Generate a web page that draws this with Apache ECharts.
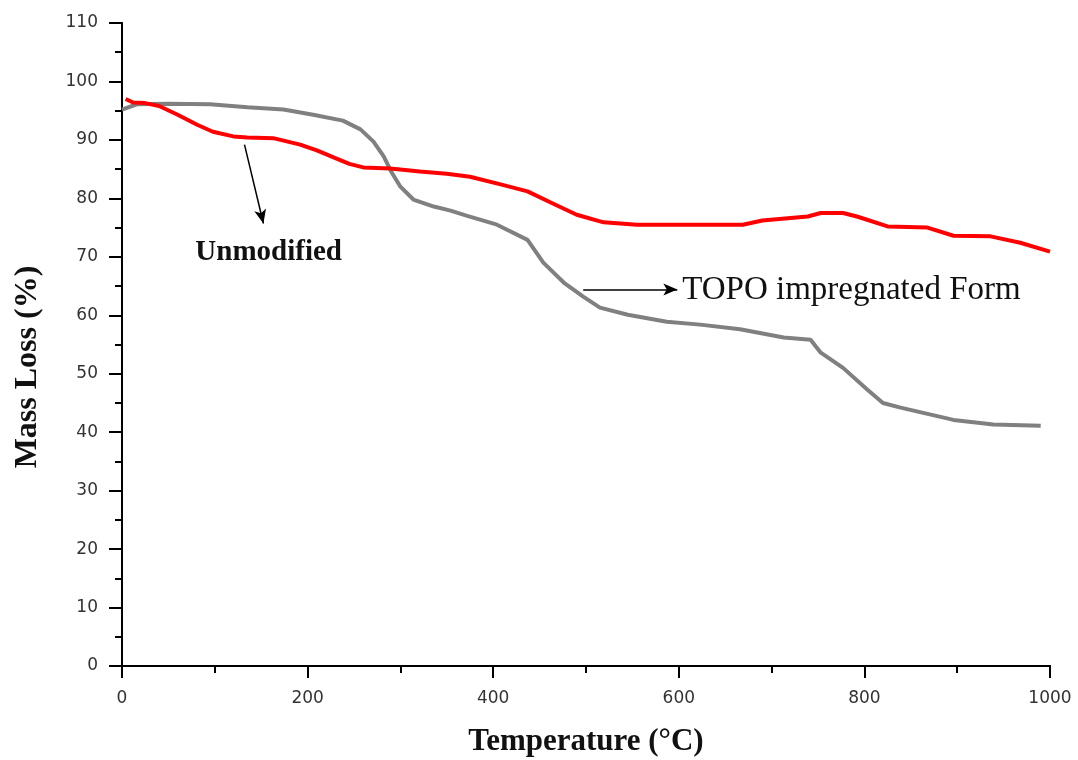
<!DOCTYPE html>
<html>
<head>
<meta charset="utf-8">
<title>Mass Loss vs Temperature</title>
<script src="https://cdn.jsdelivr.net/npm/echarts@6/dist/echarts.min.js"></script>
<style>
  html, body { margin: 0; padding: 0; background: #fff; }
  #chart { width: 1078px; height: 760px; }
</style>
</head>
<body>
<div id="chart"></div>
<script>
// Thermogravimetric curves: temperature (°C) vs mass loss (%)
const redCurve = [
  [4, 97.0], [12, 96.4], [25, 96.3], [40, 95.8], [60, 94.3], [81, 92.6],
  [98, 91.4], [120, 90.6], [135, 90.4], [163, 90.3], [192, 89.2], [210, 88.2],
  [228, 87.0], [245, 85.9], [260, 85.3], [289, 85.1], [321, 84.6], [350, 84.2],
  [375, 83.7], [408, 82.4], [437, 81.2], [462, 79.3], [490, 77.2], [519, 75.9],
  [555, 75.5], [600, 75.5], [669, 75.5], [690, 76.2], [739, 76.9], [753, 77.5],
  [777, 77.5], [792, 76.9], [825, 75.2], [868, 75.0], [896, 73.6], [936, 73.5],
  [968, 72.4], [1000, 70.9]
];
const grayCurve = [
  [0, 95.2], [16, 96.1], [50, 96.2], [95, 96.1], [135, 95.6], [174, 95.2],
  [206, 94.3], [238, 93.3], [257, 91.8], [271, 89.7], [282, 87.2], [290, 84.6],
  [300, 82.0], [314, 79.8], [336, 78.6], [354, 77.9], [372, 77.0], [404, 75.5],
  [437, 72.9], [454, 69.0], [476, 65.6], [497, 63.2], [515, 61.3], [545, 60.1],
  [587, 58.9], [623, 58.4], [666, 57.6], [713, 56.2], [742, 55.8], [753, 53.6],
  [777, 51.0], [803, 47.3], [820, 45.0], [839, 44.2], [896, 42.1], [939, 41.3],
  [990, 41.1]
];

// Axis ranges
const xRange = { min: 0, max: 1000, interval: 200 };
const yRange = { min: 0, max: 110, interval: 10 };

// Annotation texts and arrows (data coordinates)
const unmodifiedLabel = { text: 'Unmodified', at: [79, 70.7] };
const unmodifiedArrow = [[132, 89.2], [152.4, 75.7]];
const topoLabel = { text: 'TOPO impregnated Form', at: [603.6, 64.3] };
const topoArrow = [[497, 64.4], [598.4, 64.4]];

const xTitle = 'Temperature (°C)';
const yTitle = 'Mass Loss (%)';

const chart = echarts.init(document.getElementById('chart'));

const tickLabel = {
  color: '#333', fontFamily: 'DejaVu Sans', fontSize: 17, margin: 24,
  formatter: (v) => String(v)
};
const lineStyleAxis = { color: '#000', width: 2 };

const option = {
  backgroundColor: '#fff',
  animation: false,
  grid: { left: 122, right: 28, top: 23, bottom: 94, containLabel: false, outerBoundsMode: 'none' },
  xAxis: [
    {
      type: 'value', min: xRange.min, max: xRange.max, interval: xRange.interval,
      name: xTitle, nameLocation: 'middle', nameGap: 60,
      nameTextStyle: { fontFamily: 'Liberation Serif', fontWeight: 'bold', fontSize: 31, color: '#111' },
      axisLine: { show: true, lineStyle: lineStyleAxis },
      axisTick: { show: true, inside: false, length: 12, lineStyle: { color: '#000', width: 2 } },
      minorTick: { show: true, splitNumber: 2, length: 7, lineStyle: { color: '#000', width: 2 } },
      splitLine: { show: false },
      axisLabel: tickLabel
    },
    {
      type: 'value', position: 'top', min: xRange.min, max: xRange.max,
      axisLine: { show: true, lineStyle: lineStyleAxis },
      axisTick: { show: false }, axisLabel: { show: false }, splitLine: { show: false }
    }
  ],
  yAxis: [
    {
      type: 'value', min: yRange.min, max: yRange.max, interval: yRange.interval,
      axisLine: { show: true, lineStyle: lineStyleAxis },
      axisTick: { show: true, inside: false, length: 13, lineStyle: { color: '#000', width: 2 } },
      minorTick: { show: true, splitNumber: 2, length: 7, lineStyle: { color: '#000', width: 2 } },
      splitLine: { show: false },
      axisLabel: tickLabel
    },
    {
      type: 'value', position: 'right', min: yRange.min, max: yRange.max,
      axisLine: { show: true, lineStyle: lineStyleAxis },
      axisTick: { show: false }, axisLabel: { show: false }, splitLine: { show: false }
    }
  ],
  series: [
    {
      name: 'Unmodified', type: 'line', data: redCurve, showSymbol: false,
      lineStyle: { color: '#ff0000', width: 4 }, z: 3,
      markLine: {
        silent: true, symbol: ['none', 'arrow'], symbolSize: [9, 14],
        lineStyle: { color: '#000', width: 1.5, type: 'solid' },
        label: { show: false },
        data: [
          [{ coord: unmodifiedArrow[0] }, { coord: unmodifiedArrow[1] }],
          [{ coord: topoArrow[0] }, { coord: topoArrow[1] }]
        ]
      }
    },
    {
      name: 'TOPO impregnated Form', type: 'line', data: grayCurve, showSymbol: false,
      lineStyle: { color: '#808080', width: 4 }, z: 2
    }
  ]
};

chart.setOption(option);

// Place annotation texts and the rotated y-axis title
const pUnmod = chart.convertToPixel({ gridIndex: 0 }, unmodifiedLabel.at);
const pTopo = chart.convertToPixel({ gridIndex: 0 }, topoLabel.at);
chart.setOption({
  graphic: [
    {
      type: 'text', x: pUnmod[0], y: pUnmod[1],
      style: { text: unmodifiedLabel.text, fontFamily: 'Liberation Serif', fontWeight: 'bold',
               fontSize: 29, fill: '#111', align: 'left', verticalAlign: 'middle' }
    },
    {
      type: 'text', x: pTopo[0], y: pTopo[1],
      style: { text: topoLabel.text, fontFamily: 'Liberation Serif', fontWeight: 'normal',
               fontSize: 33, fill: '#111', align: 'left', verticalAlign: 'middle' }
    },
    {
      type: 'text', x: 28, y: 367, rotation: Math.PI / 2,
      style: { text: yTitle, fontFamily: 'Liberation Serif', fontWeight: 'bold',
               fontSize: 32, fill: '#111', align: 'center', verticalAlign: 'middle' }
    }
  ]
});
</script>
</body>
</html>
